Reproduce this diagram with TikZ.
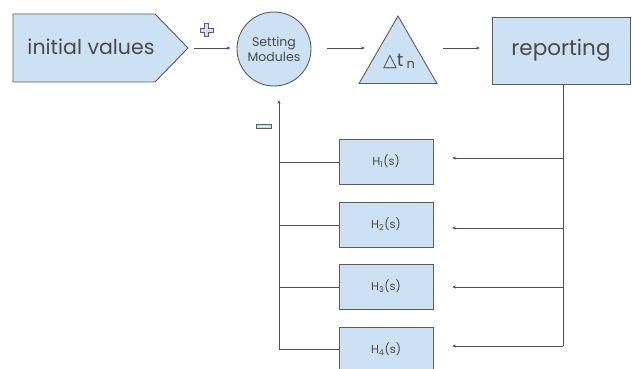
\documentclass[tikz,border=0pt]{standalone}
\usepackage{fontspec}
\setmainfont{Poppins}
\newfontfamily\symfont{DejaVu Sans}
\usetikzlibrary{shapes.geometric,arrows.meta}
\definecolor{boxfill}{HTML}{CCE1F3}
\definecolor{edgecol}{HTML}{5C5C5C}
\definecolor{txtcol}{HTML}{4A4A4A}
\definecolor{linecol}{HTML}{4F4F4F}
\tikzset{
  shapebox/.style={draw=edgecol, fill=boxfill, line width=0.9pt, text=txtcol},
  conn/.style={draw=linecol, line width=0.8pt},
  arr/.style={conn, -{Stealth[length=4pt,width=3pt]}},
  hbox/.style={shapebox, rectangle, minimum width=94pt, minimum height=45pt, inner sep=0pt, font=\fontsize{11.5}{13}\selectfont},
}
\begin{document}
\begin{tikzpicture}[x=1pt,y=-1pt]
\useasboundingbox (0,0) rectangle (632,369);
\clip (0,0) rectangle (632,369);
% initial values pentagon
\draw[shapebox] (13,14) -- (155,14) -- (188,48) -- (155,82) -- (13,82) -- cycle;
\node[text=txtcol, font=\fontsize{20.5}{24}\selectfont] (init) at (91,47) {initial values};
\coordinate (tip) at (188,48);
% setting modules
\node[shapebox, circle, minimum size=74pt, inner sep=0pt, align=center, font=\fontsize{12.5}{15}\selectfont] (sm) at (274,49) {Setting\\Modules};
% triangle
\node[shapebox, regular polygon, regular polygon sides=3, minimum size=90pt, inner sep=0pt] (tri) at (398,61) {};
\node[text=txtcol, font=\fontsize{18}{20}\selectfont, inner sep=0pt] (dt) at (399,61) {{\symfont △}t\,\raisebox{-2pt}{\fontsize{13}{14}\selectfont n}};
% reporting
\node[shapebox, rectangle, minimum width=138pt, minimum height=67pt, font=\fontsize{21.5}{26}\selectfont] (rep) at (561,50.5) {reporting};
% plus / minus signs
\draw[draw=edgecol, fill=boxfill, line width=0.7pt] (204.5,23.5) -- (208.5,23.5) -- (208.5,28) -- (213,28) -- (213,32) -- (208.5,32) -- (208.5,36.5) -- (204.5,36.5) -- (204.5,32) -- (200,32) -- (200,28) -- (204.5,28) -- cycle;
\draw[draw=edgecol, fill=boxfill, line width=0.7pt] (256,124) rectangle (271,128);
% forward arrows
\draw[arr, shorten <=6pt, shorten >=6pt] (tip) -- (sm.west |- tip);
\coordinate (t1) at (327,48);
\coordinate (t2) at (365,48);
\draw[arr] (t1) -- (t2);
\coordinate (t3) at (443,48);
\coordinate (t4) at (480,48);
\draw[arr] (t3) -- (t4);
% H boxes
\node[hbox] (h1) at (386,161.5) {H\textsubscript{1}(s)};
\node[hbox] (h2) at (386,224.5) {H\textsubscript{2}(s)};
\node[hbox] (h3) at (386,286.5) {H\textsubscript{3}(s)};
\node[hbox] (h4) at (386,349.5) {H\textsubscript{4}(s)};
% right feedback bus
\coordinate (r0) at (563,84);
\coordinate (r1) at (563,158);
\coordinate (r2) at (563,228);
\coordinate (r3) at (563,287);
\coordinate (r4) at (563,346);
\coordinate (a1) at (452,158);
\coordinate (a2) at (452,228);
\coordinate (a3) at (452,287);
\coordinate (a4) at (452,346);
\draw[conn] (r0) -- (r4);
\draw[arr] (r1) -- (a1);
\draw[arr] (r2) -- (a2);
\draw[arr] (r3) -- (a3);
\draw[arr] (r4) -- (a4);
% left feedback bus
\coordinate (l1) at (279,162);
\coordinate (l2) at (279,225);
\coordinate (l3) at (279,287);
\coordinate (l4) at (279,349);
\coordinate (lt) at (279,100);
\draw[conn] (h1.west |- l1) -- (l1);
\draw[conn] (h2.west |- l2) -- (l2);
\draw[conn] (h3.west |- l3) -- (l3);
\draw[conn] (h4.west |- l4) -- (l4);
\draw[arr] (l4) -- (lt);
\end{tikzpicture}
\end{document}
